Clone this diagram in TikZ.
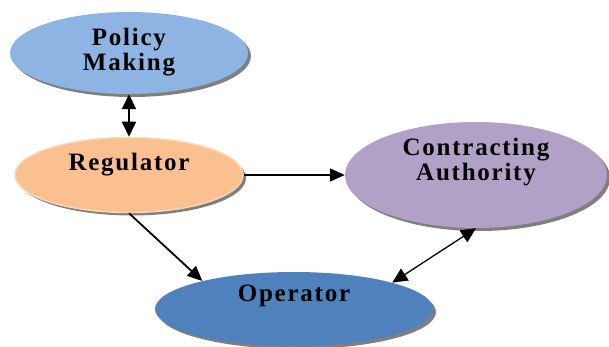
\documentclass[tikz,border=0pt]{standalone}
\usepackage{fontspec}
\newfontfamily\diagfont[LetterSpace=7]{Liberation Serif}
\usetikzlibrary{shapes.geometric,arrows.meta,shadows}
\definecolor{policyfill}{HTML}{8EB4E3}
\definecolor{regfill}{HTML}{FAC090}
\definecolor{regring}{HTML}{FCD5B5}
\definecolor{authfill}{HTML}{B2A1C7}
\definecolor{operfill}{HTML}{4F81BD}
\definecolor{shadowgray}{HTML}{7F7F7F}
\tikzset{
  blob/.style={ellipse, draw=none, inner sep=0pt,
    drop shadow={shadow xshift=3pt, shadow yshift=-3pt, fill=shadowgray, opacity=1}},
  txt/.style={font=\diagfont\bfseries\fontsize{25}{25}\selectfont, align=center},
  link/.style={line width=1.8pt, {Triangle[length=15pt,width=14pt]}-{Triangle[length=15pt,width=14pt]}},
  onelink/.style={line width=1.8pt, -{Triangle[length=15pt,width=13pt]}}
}
\begin{document}
\begin{tikzpicture}[x=1pt,y=-1pt]
    \useasboundingbox (0,0) rectangle (609,347);
    % the four bodies
    \node[blob, fill=policyfill, minimum width=238, minimum height=82] (policy) at (129,53) {};
    \node[blob, fill=regfill, draw=regring, line width=1.5pt, minimum width=228, minimum height=75] (reg) at (129,175) {};
    \node[blob, fill=authfill, minimum width=262, minimum height=106] (auth) at (476,175) {};
    \node[blob, fill=operfill, minimum width=278, minimum height=74] (oper) at (294,309) {};
    % their names
    \node[txt] (policytext) at (129,52) {Policy\\Making};
    \node[txt] (regtext) at (129,165) {Regulator};
    \node[txt] (authtext) at (476,162) {Contracting\\Authority};
    \node[txt] (opertext) at (294,296) {Operator};
    % links
    \draw[link] (policy.south) -- (reg.north);
    \draw[onelink] (reg.east) -- (auth.west);
    \draw[onelink] (reg.south) -- (oper.163);
    \draw[link, line width=1.3pt] (auth.south) -- (oper.15);
\end{tikzpicture}
\end{document}
